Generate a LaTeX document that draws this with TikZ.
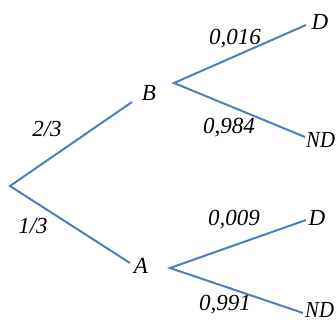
\documentclass[tikz,border=0pt]{standalone}
\usepackage{fontspec}
\setmainfont{Liberation Serif}
\begin{document}
\begin{tikzpicture}[x=1pt,y=1pt,
  branch/.style={draw={rgb,255:red,79;green,126;blue,184}, line width=2pt},
  lbl/.style={inner sep=0pt, font=\fontsize{23}{27}\selectfont\itshape},
  endlbl/.style={lbl, anchor=west}]
\useasboundingbox (0,0) rectangle (336,321);
% branch points
\coordinate (root) at (10,135);
\coordinate (bIn) at (132,219);
\coordinate (bOut) at (174,238);
\coordinate (aIn) at (130,58);
\coordinate (aOut) at (170,53);
\coordinate (d1) at (306,296);
\coordinate (nd1) at (305,184);
\coordinate (d2) at (306,101);
\coordinate (nd2) at (303,8);
% outcome names (the two-letter ones are set a little narrower)
\node[lbl] (B) at (149,228) {B};
\node[lbl] (A) at (141,55) {A};
\node[lbl] (D1) at (320,299) {D};
\node[endlbl] (ND1) at (306,181) {\scalebox{0.9}[1]{ND}};
\node[lbl] (D2) at (317,103) {D};
\node[endlbl] (ND2) at (305,11) {\scalebox{0.9}[1]{ND}};
% branches
\draw[branch] (bIn) -- (root) -- (aIn);
\draw[branch] (d1) -- (bOut) -- (nd1);
\draw[branch] (d2) -- (aOut) -- (nd2);
% probabilities
\node[lbl] (p23) at (47,192) {2/3};
\node[lbl] (p13) at (33,95) {1/3};
\node[lbl] (p016) at (235,282) {0,016};
\node[lbl] (p984) at (229,193) {0,984};
\node[lbl] (p009) at (234,101) {0,009};
\node[lbl] (p991) at (225,16) {0,991};
\end{tikzpicture}
\end{document}
